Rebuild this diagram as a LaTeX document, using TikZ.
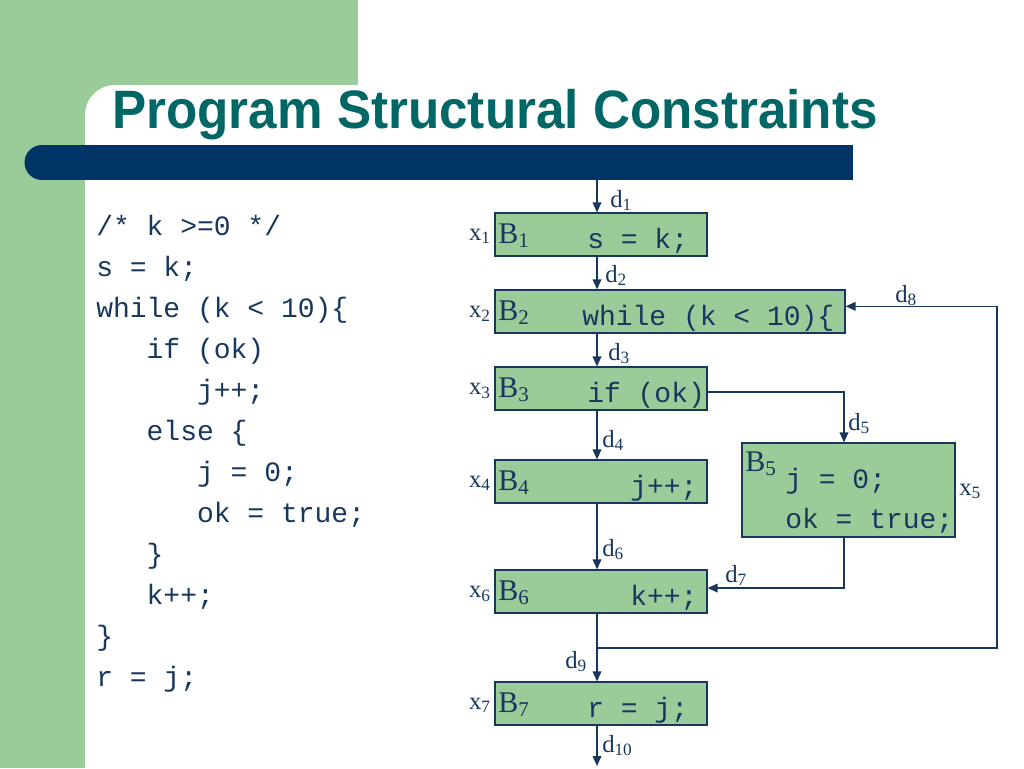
\documentclass[tikz,border=0pt]{standalone}
\usepackage{fontspec}
\setmainfont{Liberation Serif}
\newfontfamily\codefont{Liberation Mono}
\newfontfamily\titlefont{Liberation Sans}
\usetikzlibrary{arrows.meta}
\definecolor{bggreen}{RGB}{153,204,153}
\definecolor{barblue}{RGB}{0,51,102}
\definecolor{titleteal}{RGB}{0,102,102}
\definecolor{ink}{RGB}{23,55,94}
\begin{document}
\begin{tikzpicture}[x=0.75pt,y=-0.75pt,
  codeline/.style={anchor=base west, inner sep=0pt, text=ink, font=\codefont\fontsize{21}{25}\selectfont},
  blk/.style={draw=ink, line width=0.9pt, fill=bggreen, inner sep=0pt, minimum height=32.25pt, minimum width=159pt},
  blabel/.style={anchor=base west, inner sep=0pt, text=ink, font=\fontsize{22.5}{26}\selectfont},
  lbl/.style={anchor=base west, inner sep=0pt, text=ink, font=\fontsize{18.5}{22}\selectfont},
  xlbl/.style={anchor=base east, inner sep=0pt, text=ink, font=\fontsize{18.5}{22}\selectfont},
  arr/.style={draw=ink, line width=1.1pt, -{Triangle[length=7.5pt,width=6.5pt]}}]
% background
\useasboundingbox (0,0) rectangle (1024,768);
\fill[white] (0,0) rectangle (1024,768);
\fill[bggreen] (0,0) rectangle (358,130);
\fill[bggreen] (0,0) rectangle (85,768);
\fill[white] (85,768) -- (85,115) arc[start angle=180, end angle=270, radius=30] -- (1024,85) -- (1024,768) -- cycle;
\fill[barblue] (42,145) rectangle (853,180);
\fill[barblue] (42,162.5) circle[radius=17.5];
% title
\node[anchor=base west, inner sep=0pt, text=titleteal, font=\titlefont\bfseries\fontsize{39}{41}\selectfont] (title) at (112,128) {\scalebox{0.985}[1.04]{Program Structural Constraints}};
% code listing
\node[codeline] (c1) at (96,235) {/* k >=0 */};
\node[codeline] (c2) at (96,276) {s = k;};
\node[codeline] (c3) at (96,317) {while (k < 10)\{};
\node[codeline] (c4) at (146.4,358) {if (ok)};
\node[codeline] (c5) at (196.8,399) {j++;};
\node[codeline] (c6) at (146.4,440) {else \{};
\node[codeline] (c7) at (196.8,481) {j = 0;};
\node[codeline] (c8) at (196.8,522) {ok = true;};
\node[codeline] (c9) at (146.4,563) {\}};
\node[codeline] (c10) at (146.4,604) {k++;};
\node[codeline] (c11) at (96,645) {\}};
\node[codeline] (c12) at (96,686) {r = j;};
% blocks
\node[blk] (B1) at (601,234.5) {};
\node[blk, minimum width=262.5pt] (B2) at (670,311.5) {};
\node[blk] (B3) at (601,388.5) {};
\node[blk] (B4) at (601,481.5) {};
\node[blk, minimum width=159.75pt, minimum height=70.5pt] (B5) at (848.5,490) {};
\node[blk] (B6) at (601,591.5) {};
\node[blk] (B7) at (601,703.5) {};
% block labels
\node[blabel] (b1) at (498,243) {B\textsubscript{1}};
\node[blabel] (b2) at (498,320) {B\textsubscript{2}};
\node[blabel] (b3) at (498,397) {B\textsubscript{3}};
\node[blabel] (b4) at (498,490) {B\textsubscript{4}};
\node[blabel] (b5) at (745,471) {B\textsubscript{5}};
\node[blabel] (b6) at (498,600) {B\textsubscript{6}};
\node[blabel] (b7) at (498,712) {B\textsubscript{7}};
% block code
\node[codeline] (t1) at (587,248.5) {s = k;};
\node[codeline] (t2) at (582,325.5) {while (k < 10)\{};
\node[codeline] (t3) at (587,402.5) {if (ok)};
\node[codeline] (t4) at (630,495.5) {j++;};
\node[codeline] (t5a) at (785,488) {j = 0;};
\node[codeline] (t5b) at (785,528) {ok = true;};
\node[codeline] (t6) at (630,605.5) {k++;};
\node[codeline] (t7) at (587,717.5) {r = j;};
% x labels
\node[xlbl] (x1) at (491,240.5) {x\textsubscript{1}};
\node[xlbl] (x2) at (491,317.5) {x\textsubscript{2}};
\node[xlbl] (x3) at (491,394.5) {x\textsubscript{3}};
\node[xlbl] (x4) at (491,487.5) {x\textsubscript{4}};
\node[lbl] (x5) at (959,495) {x\textsubscript{5}};
\node[xlbl] (x6) at (491,597.5) {x\textsubscript{6}};
\node[xlbl] (x7) at (491,709.5) {x\textsubscript{7}};
% connectors
\coordinate (v) at (597,0);
\coordinate (top) at (597,180);
\coordinate (bot) at (597,766);
\coordinate (cf) at (844,0);
\coordinate (j) at (597,648);
\coordinate (r) at (997,648);
\draw[arr] (top) -- (B1.north -| v);
\draw[arr] (B1.south -| v) -- (B2.north -| v);
\draw[arr] (B2.south -| v) -- (B3.north -| v);
\draw[arr] (B3.south -| v) -- (B4.north -| v);
\draw[arr] (B4.south -| v) -- (B6.north -| v);
\draw[arr] (B6.south -| v) -- (B7.north -| v);
\draw[arr] (B7.south -| v) -- (bot);
\draw[arr] ([yshift=-2.6pt]B3.east) -| (B5.north -| cf);
\draw[arr] (B5.south -| cf) |- ([yshift=2.6pt]B6.east);
\draw[arr] (j) -- (r) |- ([yshift=3.9pt]B2.east);
% d labels
\node[lbl] (d1) at (610,207) {d\textsubscript{1}};
\node[lbl] (d2) at (605,282) {d\textsubscript{2}};
\node[lbl] (d3) at (608,360) {d\textsubscript{3}};
\node[lbl] (d4) at (602,447) {d\textsubscript{4}};
\node[lbl] (d5) at (848,430) {d\textsubscript{5}};
\node[lbl] (d6) at (602,556) {d\textsubscript{6}};
\node[lbl] (d7) at (725,582) {d\textsubscript{7}};
\node[lbl] (d8) at (895,302) {d\textsubscript{8}};
\node[lbl] (d9) at (565,668) {d\textsubscript{9}};
\node[lbl] (d10) at (602,752) {d\textsubscript{10}};
\end{tikzpicture}
\end{document}
